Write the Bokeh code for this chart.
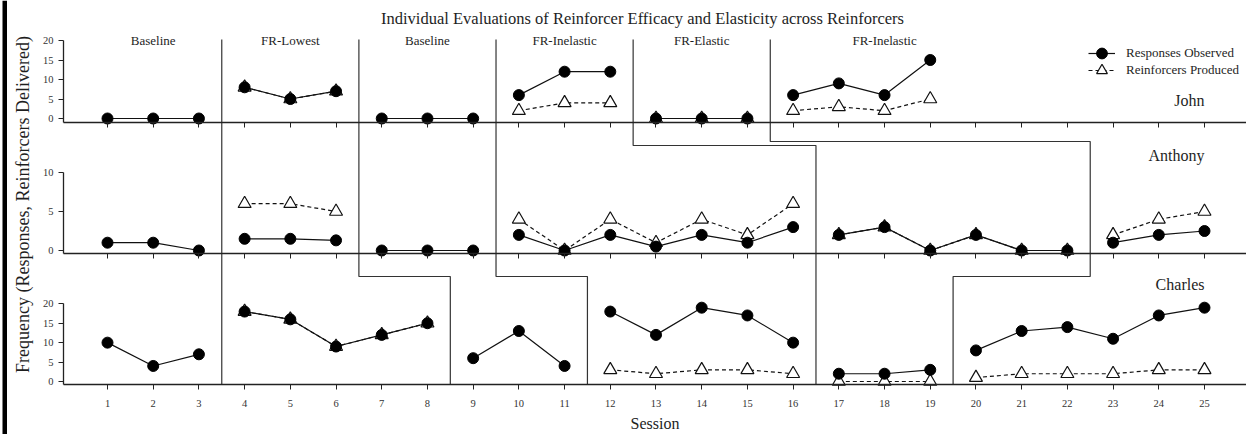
import math
import numpy as np
from bokeh.plotting import figure
from bokeh.models import (Range1d, LinearAxis, FixedTicker, Label, Legend, LegendItem,
                          BoxAnnotation, ColumnDataSource)
from bokeh.embed import file_html
from bokeh.resources import INLINE

# ---------------- data ----------------
N = None
sessions = list(range(1, 26))

john_responses = [0, 0, 0, 8, 5, 7, 0, 0, 0, 6, 12, 12, 0, 0, 0, 6, 9, 6, 15, N, N, N, N, N, N]
john_reinforcers = [N, N, N, 8, 5, 7, N, N, N, 2, 4, 4, 0, 0, 0, 2, 3, 2, 5, N, N, N, N, N, N]

anthony_responses = [1, 1, 0, 1.5, 1.5, 1.3, 0, 0, 0, 2, 0, 2, 0.5, 2, 1, 3, 2, 3, 0, 2, 0, 0, 1, 2, 2.5]
anthony_reinforcers = [N, N, N, 6, 6, 5, N, N, N, 4, 0, 4, 1, 4, 2, 6, 2, 3, 0, 2, 0, 0, 2, 4, 5]

charles_responses = [10, 4, 7, 18, 16, 9, 12, 15, 6, 13, 4, 18, 12, 19, 17, 10, 2, 2, 3, 8, 13, 14, 11, 17, 19]
charles_reinforcers = [N, N, N, 18, 16, 9, 12, 15, N, N, N, 3, 2, 3, 3, 2, 0, 0, 0, 1, 2, 2, 2, 3, 3]

john_phase_changes = [3.5, 6.5, 9.5, 12.5, 15.5]
anthony_phase_changes = [3.5, 6.5, 9.5, 16.5, 22.5]
charles_phase_changes = [3.5, 8.5, 11.5, 16.5, 19.5]

phase_labels = ["Baseline", "FR-Lowest", "Baseline", "FR-Inelastic", "FR-Elastic", "FR-Inelastic"]
phase_label_sessions = [2, 5, 8, 11, 14, 18]

participants = ["John", "Anthony", "Charles"]
y_ticks_john = [0, 5, 10, 15, 20]
y_ticks_anthony = [0, 5, 10]
y_ticks_charles = [0, 5, 10, 15, 20]

title_text = "Individual Evaluations of Reinforcer Efficacy and Elasticity across Reinforcers"
y_title = "Frequency (Responses, Reinforcers Delivered)"
x_title = "Session"
legend_labels = ["Responses Observed", "Reinforcers Produced"]

# ---------------- layout (page pixels) ----------------
W, H = 1246, 434
PAGE_TOP, PAGE_BOTTOM = 0, H
FRAME_LEFT_PX, FRAME_RIGHT_PX = 0, W
S1_PX, PX_PER_SESSION = 107.0, 45.708

def sess_at(px):
    return 1 + (px - S1_PX) / PX_PER_SESSION

x_start, x_end = sess_at(FRAME_LEFT_PX), sess_at(FRAME_RIGHT_PX)
axis_x = sess_at(63)

FONT = "Liberation Serif"
TXT = "#1e1e1e"

p = figure(width=W, height=H, x_range=Range1d(x_start, x_end), y_range=Range1d(PAGE_BOTTOM, PAGE_TOP),
           x_axis_location=None, y_axis_location=None, toolbar_location=None,
           output_backend="svg", min_border=0, outline_line_color=None)
p.grid.grid_line_color = None
p.background_fill_color = "white"
p.border_fill_color = "white"

# panels: (zero page y, px per unit, axis line page y, ticks, ...)
panels = {
    "John": (118.0, 3.9, 122.0, y_ticks_john, john_responses, john_reinforcers, john_phase_changes),
    "Anthony": (250.0, 7.8, 253.3, y_ticks_anthony, anthony_responses, anthony_reinforcers, anthony_phase_changes),
    "Charles": (381.0, 3.885, 384.0, y_ticks_charles, charles_responses, charles_reinforcers, charles_phase_changes),
}
name_y = {"John": 100, "Anthony": 155, "Charles": 284}

legend_refs = {}

def segments(vals, changes):
    bounds = [-math.inf] + list(changes) + [math.inf]
    xs_l, ys_l = [], []
    for a, b in zip(bounds[:-1], bounds[1:]):
        xs = [s for s, v in zip(sessions, vals) if a < s < b and v is not None]
        ys = [v for s, v in zip(sessions, vals) if a < s < b and v is not None]
        if len(xs) >= 2:
            xs_l.append(xs)
            ys_l.append(ys)
    return xs_l, ys_l

for name in participants:
    zero, ppu, axis_y, ticks, resp, reinf, changes = panels[name]
    rn = name.lower()
    p.extra_y_ranges[rn] = Range1d((zero - PAGE_BOTTOM) / ppu, (zero - PAGE_TOP) / ppu)
    axis_val = (zero - axis_y) / ppu

    # y axis
    ya = LinearAxis(y_range_name=rn, fixed_location=axis_x, bounds=(axis_val, max(ticks)),
                    ticker=FixedTicker(ticks=ticks, minor_ticks=[]),
                    major_tick_out=5, major_tick_in=0, minor_tick_line_color=None,
                    major_tick_line_color="#222", axis_line_color="#222", axis_line_width=1.3,
                    major_label_text_font=FONT, major_label_text_font_size="10.5px",
                    major_label_text_color="#333", major_label_standoff=5)
    p.add_layout(ya, "left")

    # x axis
    last = name == "Charles"
    xa = LinearAxis(y_range_name=rn, fixed_location=axis_val, bounds=(axis_x, x_end),
                    ticker=FixedTicker(ticks=sessions, minor_ticks=[]),
                    major_tick_out=5, major_tick_in=0, minor_tick_line_color=None,
                    major_tick_line_color="#222", axis_line_color="#222", axis_line_width=1.3,
                    major_label_text_font=FONT, major_label_text_font_size="10.5px",
                    major_label_text_color="#333", major_label_standoff=10)
    if last:
        xa.axis_label = x_title
        xa.axis_label_text_font = FONT
        xa.axis_label_text_font_size = "16px"
        xa.axis_label_text_font_style = "normal"
        xa.axis_label_text_color = TXT
        xa.axis_label_standoff = 5
    else:
        xa.major_label_overrides = {s: "" for s in sessions}
    p.add_layout(xa, "below")

    # data
    rx, ry = segments(reinf, changes)
    l2 = p.multi_line(rx, ry, y_range_name=rn, line_color="#111", line_width=1.2, line_dash="4 3")
    src_r = ColumnDataSource(dict(x=sessions, y=[np.nan if v is None else v for v in reinf]))
    m2 = p.scatter("x", "y", source=src_r, y_range_name=rn, marker="triangle", size=13,
                   fill_color="white", line_color="#111", line_width=1.2)
    sx, sy = segments(resp, changes)
    l1 = p.multi_line(sx, sy, y_range_name=rn, line_color="#111", line_width=1.2)
    src_s = ColumnDataSource(dict(x=sessions, y=[np.nan if v is None else v for v in resp]))
    m1 = p.scatter("x", "y", source=src_s, y_range_name=rn, marker="circle", size=11,
                   fill_color="black", line_color="black")
    if name == "John":
        legend_refs = {"resp": [l1, m1], "reinf": [l2, m2]}

    p.add_layout(Label(x=25, y=name_y[name], text=name, text_align="right", text_baseline="middle",
                       text_font=FONT, text_font_size="16px", text_color=TXT))

# phase change lines
TOP_Y, GAP1 = 39, [145, 145, 145, 145, 141]
GAP2, BOT_Y = 276, 384
pxs, pys = [], []
for j, a, c, g1 in zip(john_phase_changes, anthony_phase_changes, charles_phase_changes, GAP1):
    pxs.append([j, j, a, a, c, c])
    pys.append([TOP_Y, g1, g1, GAP2, GAP2, BOT_Y])
p.multi_line(pxs, pys, line_color="#333", line_width=1.2)

# phase labels
for lab, s in zip(phase_labels, phase_label_sessions):
    p.add_layout(Label(x=s, y=40, text=lab, text_align="center", text_baseline="middle",
                       text_font=FONT, text_font_size="13px", text_color=TXT))

# title & axis title
p.add_layout(Label(x=sess_at(642), y=18, text=title_text, text_align="center", text_baseline="middle",
                   text_font=FONT, text_font_size="16.5px", text_color=TXT))
p.add_layout(Label(x=sess_at(22), y=204, text=y_title, angle=math.pi / 2, text_align="center",
                   text_baseline="middle", text_font=FONT, text_font_size="18px", text_color=TXT))

# left border bar
p.add_layout(BoxAnnotation(left=sess_at(2), right=sess_at(6.5), fill_color="black", fill_alpha=1,
                           line_color=None))

# legend: one entry per Legend so rows can sit closer than the glyph box height
legend_keys = ["resp", "reinf"]
legend_row_y = [53, 70]
for lab, key, ry_ in zip(legend_labels, legend_keys, legend_row_y):
    lg = Legend(items=[LegendItem(label=lab, renderers=legend_refs[key])],
                location=(1088, PAGE_BOTTOM - (ry_ + 15)), orientation="vertical",
                glyph_width=27, glyph_height=30, spacing=0, padding=0, margin=0,
                label_standoff=11, label_text_font=FONT, label_text_font_size="13px",
                label_text_color=TXT, background_fill_alpha=0, border_line_alpha=0)
    p.add_layout(lg)

open("out.html", "w").write(file_html(p, INLINE))
